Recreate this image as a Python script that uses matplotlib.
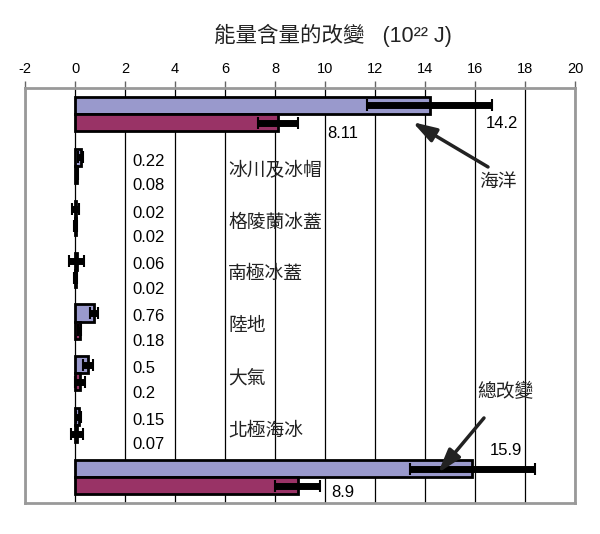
import numpy as np
import matplotlib
matplotlib.use("Agg")
import matplotlib.pyplot as plt

plt.rcParams['font.family'] = ['Liberation Sans', 'Noto Sans CJK TC']
plt.rcParams['axes.unicode_minus'] = False

# data (10^22 J)
categories = ["海洋", "冰川及冰帽", "格陵蘭冰蓋", "南極冰蓋", "陸地", "大氣", "北極海冰", "總改變"]
blue_vals = [14.2, 0.22, 0.02, 0.06, 0.76, 0.5, 0.15, 15.9]
red_vals = [8.11, 0.08, 0.02, 0.02, 0.18, 0.2, 0.07, 8.9]
blue_err = [2.5, 0.1, 0.15, 0.3, 0.15, 0.2, 0.1, 2.5]
red_err = [0.8, 0.05, 0.05, 0.05, 0.05, 0.2, 0.25, 0.9]
blue_labels = ["14.2", "0.22", "0.02", "0.06", "0.76", "0.5", "0.15", "15.9"]
red_labels = ["8.11", "0.08", "0.02", "0.02", "0.18", "0.2", "0.07", "8.9"]

blue_col = "#9999CC"
red_col = "#993366"

fig = plt.figure(figsize=(6, 5.34), dpi=100)
ax = fig.add_axes([0.0417, 0.058, 0.9166, 0.777])

y = np.arange(len(categories))
h = 0.33
ax.barh(y - h / 2, blue_vals, height=h, color=blue_col, edgecolor="black", linewidth=2, zorder=3)
ax.barh(y + h / 2, red_vals, height=h, color=red_col, edgecolor="black", linewidth=2, zorder=3)
ax.errorbar(blue_vals, y - h / 2, xerr=blue_err, fmt="none", ecolor="black",
            elinewidth=5, capsize=4, capthick=1.5, zorder=4)
ax.errorbar(red_vals, y + h / 2, xerr=red_err, fmt="none", ecolor="black",
            elinewidth=5, capsize=4, capthick=1.5, zorder=4)

ax.set_xlim(-2, 20)
ax.set_ylim(7.5, -0.5)
ax.set_xticks(np.arange(-2, 21, 2))
ax.set_yticks([])
ax.xaxis.tick_top()
ax.tick_params(axis="x", direction="out", length=5, width=1, colors="#666666",
               labelcolor="black", labelsize=10.5, pad=4)
ax.grid(axis="x", color="black", linewidth=0.9, zorder=1)
for s in ax.spines.values():
    s.set_color("#999999")
    s.set_linewidth(2)
    s.set_zorder(5)

# value labels for small categories
for i in range(1, 7):
    ax.text(2.28, i - 0.09, blue_labels[i], fontsize=12, ha="left", va="center")
    ax.text(2.28, i + 0.38, red_labels[i], fontsize=12, ha="left", va="center")
    ax.text(6.12, i + 0.1, categories[i], fontsize=13.5, ha="left", va="center", color="#222222")

# ocean and total
ax.text(17.08, 0.175, blue_labels[0], fontsize=12, ha="center", va="center")
ax.text(10.72, 0.37, red_labels[0], fontsize=12, ha="center", va="center")
ax.text(17.24, 6.48, blue_labels[7], fontsize=12, ha="center", va="center")
ax.text(10.72, 7.29, red_labels[7], fontsize=12, ha="center", va="center")

arrow = dict(arrowstyle="-|>,head_length=0.8,head_width=0.25", color="#222222", lw=2.5,
             mutation_scale=18, shrinkA=0, shrinkB=0)
ax.annotate("", xy=(13.5, 0.155), xytext=(16.52, 1.02), arrowprops=arrow, zorder=6)
ax.text(16.92, 1.31, categories[0], fontsize=13.5, ha="center", va="center", color="#222222")
ax.annotate("", xy=(14.52, 6.92), xytext=(16.36, 5.86), arrowprops=arrow, zorder=6)
ax.text(17.2, 5.36, categories[7], fontsize=13.5, ha="center", va="center", color="#222222")

fig.text(0.555, 0.934, "能量含量的改變   (10²² J)", fontsize=15.5, ha="center", va="center",
         color="#222222")

fig.savefig("out.png", dpi=100)
